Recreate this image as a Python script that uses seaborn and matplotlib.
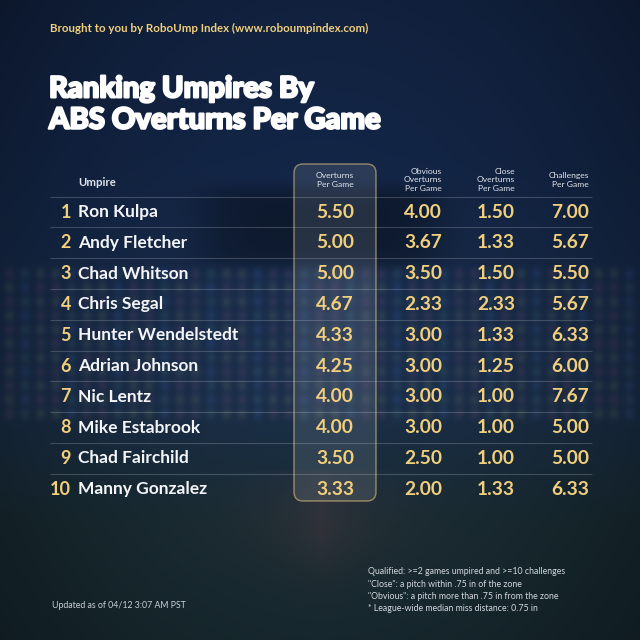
import numpy as np
import pandas as pd
import seaborn as sns
import matplotlib.pyplot as plt
import matplotlib.patheffects as pe
from matplotlib.patches import FancyBboxPatch

# data
ranks = [1, 2, 3, 4, 5, 6, 7, 8, 9, 10]
umpires = ["Ron Kulpa", "Andy Fletcher", "Chad Whitson", "Chris Segal",
           "Hunter Wendelstedt", "Adrian Johnson", "Nic Lentz",
           "Mike Estabrook", "Chad Fairchild", "Manny Gonzalez"]
overturns = [5.50, 5.00, 5.00, 4.67, 4.33, 4.25, 4.00, 4.00, 3.50, 3.33]
obvious = [4.00, 3.67, 3.50, 2.33, 3.00, 3.00, 3.00, 3.00, 2.50, 2.00]
close = [1.50, 1.33, 1.50, 2.33, 1.33, 1.25, 1.00, 1.00, 1.00, 1.33]
challenges = [7.00, 5.67, 5.50, 5.67, 6.33, 6.00, 7.67, 5.00, 5.00, 6.33]

col_labels = ["Overturns\nPer Game", "Obvious\nOverturns\nPer Game",
              "Close\nOverturns\nPer Game", "Challenges\nPer Game"]

df = pd.DataFrame({"rank": ranks, "umpire": umpires, "overturns": overturns,
                   "obvious": obvious, "close": close, "challenges": challenges})

sns.set_theme(style="dark")
plt.rcParams["font.family"] = ["Lato", "DejaVu Sans"]

GOLD = "#f1cf7c"
WHITE = "#f4f5f8"

fig = plt.figure(figsize=(6.4, 6.4), dpi=100)

# ---- background (blurred ballpark look) ----
bg = fig.add_axes([0, 0, 1, 1])
n = 200
yy, xx = np.mgrid[0:n, 0:n] / n * 640
top = np.array([0x14, 0x27, 0x49]) / 255
mid = np.array([0x1b, 0x2f, 0x4a]) / 255
bot = np.array([0x1a, 0x2e, 0x35]) / 255
t = np.clip((yy - 150) / 300, 0, 1)[..., None]
img = top * (1 - t) + mid * t
t2 = np.clip((yy - 400) / 120, 0, 1)[..., None]
img = img * (1 - t2) + bot * t2

# crowd bokeh
dot_cols = np.array([[0.55, 0.25, 0.30], [0.25, 0.35, 0.60],
                     [0.55, 0.50, 0.25], [0.30, 0.45, 0.35]])
glow = np.zeros_like(img)
for i, cx in enumerate(np.arange(8, 640, 15.5)):
    for j, cy in enumerate(np.arange(272, 420, 14)):
        c = dot_cols[(i * 3 + j * 2 + (i // 3)) % 4]
        g = np.exp(-(((xx - cx) / 4.5) ** 2 + ((yy - cy) / 5.5) ** 2))
        glow += g[..., None] * c
img = img + glow * 0.18
# dark scoreboard block
sb = np.exp(-(((xx - 320) / 120) ** 6 + ((yy - 225) / 40) ** 6))
img = img * (1 - 0.35 * sb[..., None])
# infield dirt
dirt = np.exp(-((np.abs(xx - 320) / 70) + ((yy - 520) / 60) ** 2) * 1.2)
dirt *= (yy > 470)
img = img + dirt[..., None] * np.array([0.10, 0.03, 0.03])
# vignette
v = 1 - 0.38 * (((xx - 320) / 400) ** 2 + ((yy - 320) / 500) ** 2)
img = np.clip(img * v[..., None], 0, 1)
bg.imshow(img, extent=[0, 640, 640, 0], interpolation="bicubic", aspect="auto")
bg.set_xlim(0, 640)
bg.set_ylim(640, 0)
bg.axis("off")

# ---- table in pixel-ish layout coordinates ----
ax = fig.add_axes([0, 0, 1, 1])
ax.set_xlim(0, 640)
ax.set_ylim(640, 0)
ax.axis("off")
ax.patch.set_alpha(0)

row_y = lambda i: 212 + i * 30.8

# highlight box for the main column
box = FancyBboxPatch((294, 164), 82, 337, boxstyle="round,pad=0,rounding_size=9",
                     facecolor=(1, 1, 1, 0.10), edgecolor=(0.95, 0.82, 0.50, 0.55),
                     linewidth=1.0, zorder=2)
ax.add_patch(box)

# header
fig.text(50 / 640, 1 - 28 / 640, "Brought to you by RoboUmp Index (www.roboumpindex.com)",
         color=GOLD, fontsize=8.3, fontweight="bold", va="center", ha="left")
fig.text(49 / 640, 1 - 105 / 640, "Ranking Umpires By\nABS Overturns Per Game",
         color="white", fontsize=21, fontweight="black", va="center", ha="left",
         linespacing=1.25,
         path_effects=[pe.withStroke(linewidth=1.6, foreground="white")])

ax.text(78, 183, "Umpire", color="#dfe4ee", fontsize=8.2, fontweight="bold", va="center")
col_x = [335, 442, 515, 589]
col_ha = ["center", "right", "right", "right"]
for lab, x, ha in zip(col_labels, col_x, col_ha):
    ax.text(x, 180, lab, color="#e2e6ee", fontsize=6.1, ha=ha, va="center",
            linespacing=1.3, multialignment=ha)

# separators
ax.hlines([197] + [row_y(i) + 15.4 for i in range(9)], 50, 592,
          color=(1, 1, 1, 0.18), linewidth=0.8, zorder=1)

value_cols = ["overturns", "obvious", "close", "challenges"]
for i, r in df.iterrows():
    y = row_y(i)
    ax.text(71, y, str(r["rank"]), color=GOLD, fontsize=13, fontweight="bold",
            ha="right", va="center", zorder=3)
    ax.text(78, y, r["umpire"], color=WHITE, fontsize=12.5, fontweight="bold",
            ha="left", va="center", zorder=3)
    for c, x, ha in zip(value_cols, col_x, col_ha):
        ax.text(x, y, f"{r[c]:.2f}", color=GOLD, fontsize=13.8, fontweight="bold",
                ha=ha, va="center", zorder=3)

# footer
ax.text(52, 606, "Updated as of 04/12 3:07 AM PST", color="#c9d0d8", fontsize=6.3,
        va="center")
notes = ["Qualified: >=2 games umpired and >=10 challenges",
         "\"Close\": a pitch within .75 in of the zone",
         "\"Obvious\": a pitch more than .75 in from the zone",
         "* League-wide median miss distance: 0.75 in"]
for k, line in enumerate(notes):
    ax.text(368, 572 + k * 12.3, line, color="#d3d8df", fontsize=6.3, va="center")

fig.savefig("out.png", dpi=100)
